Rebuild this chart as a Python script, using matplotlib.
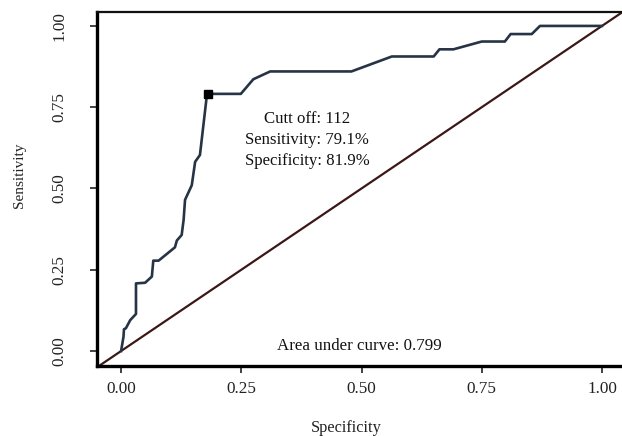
import matplotlib
matplotlib.use("Agg")
import matplotlib.pyplot as plt

# ROC curve points (x = 1 - specificity, y = sensitivity)
fpr = [0.0, 0.005, 0.006, 0.010, 0.019, 0.031, 0.031, 0.050, 0.064, 0.067,
       0.078, 0.112, 0.116, 0.126, 0.130, 0.133, 0.147, 0.154, 0.164, 0.178,
       0.181, 0.249, 0.275, 0.310, 0.479, 0.563, 0.650, 0.662, 0.691, 0.750,
       0.798, 0.810, 0.854, 0.871, 1.0]
tpr = [0.0, 0.044, 0.067, 0.070, 0.095, 0.114, 0.208, 0.210, 0.229, 0.278,
       0.278, 0.319, 0.340, 0.357, 0.403, 0.465, 0.510, 0.582, 0.603, 0.782,
       0.791, 0.791, 0.836, 0.860, 0.860, 0.906, 0.906, 0.928, 0.928, 0.952,
       0.952, 0.975, 0.975, 1.0, 1.0]

cutoff_x = [0.181]
cutoff_y = [0.791]
ref_line = [-0.1, 1.1]
ticks = [0.0, 0.25, 0.5, 0.75, 1.0]
tick_labels = ["0.00", "0.25", "0.50", "0.75", "1.00"]

plt.rcParams["font.family"] = ["Liberation Serif", "DejaVu Serif"]

fig = plt.figure(figsize=(6.22, 4.36), dpi=100)
ax = fig.add_axes([0.156, 0.1606, 0.8505, 0.812])

ax.plot(ref_line, ref_line, color="#3b1818", lw=1.6, zorder=2)
ax.plot(fpr, tpr, color="#263445", lw=1.9, zorder=3)
ax.plot(cutoff_x, cutoff_y, marker="s", ms=6, color="black", ls="none", zorder=4)

ax.text(0.387, 0.649, "Cutt off: 112\nSensitivity: 79.1%\nSpecificity: 81.9%",
        ha="center", va="center", fontsize=12.1, linespacing=1.4, color="#111111")
ax.text(0.496, 0.015, "Area under curve: 0.799", ha="center", va="center",
        fontsize=12.2, color="#111111")

ax.set_xlim(-0.05, 1.05)
ax.set_ylim(-0.046, 1.043)
ax.set_xticks(ticks)
ax.set_xticklabels(tick_labels)
ax.set_yticks(ticks)
ax.set_yticklabels(tick_labels, rotation=90, va="center")
ax.tick_params(axis="both", length=5, width=1.2, color="#222222",
               labelsize=12.3, labelcolor="#222222")
ax.tick_params(axis="x", pad=6)
ax.tick_params(axis="y", pad=16)

for side in ["left", "bottom"]:
    ax.spines[side].set_linewidth(2.4)
    ax.spines[side].set_color("black")
ax.spines["top"].set_linewidth(1.6)
ax.spines["top"].set_color("#111111")
ax.spines["right"].set_visible(False)

ax.set_xlabel("Specificity", fontsize=11.8, color="#222222")
ax.set_ylabel("Sensitivity", fontsize=11, color="#222222")
ax.xaxis.label.set_va("center")
ax.yaxis.label.set_va("center")
ax.xaxis.set_label_coords(0.4707, -0.174)
ax.yaxis.set_label_coords(-0.147, 0.538)

fig.savefig("out.png", dpi=100)
